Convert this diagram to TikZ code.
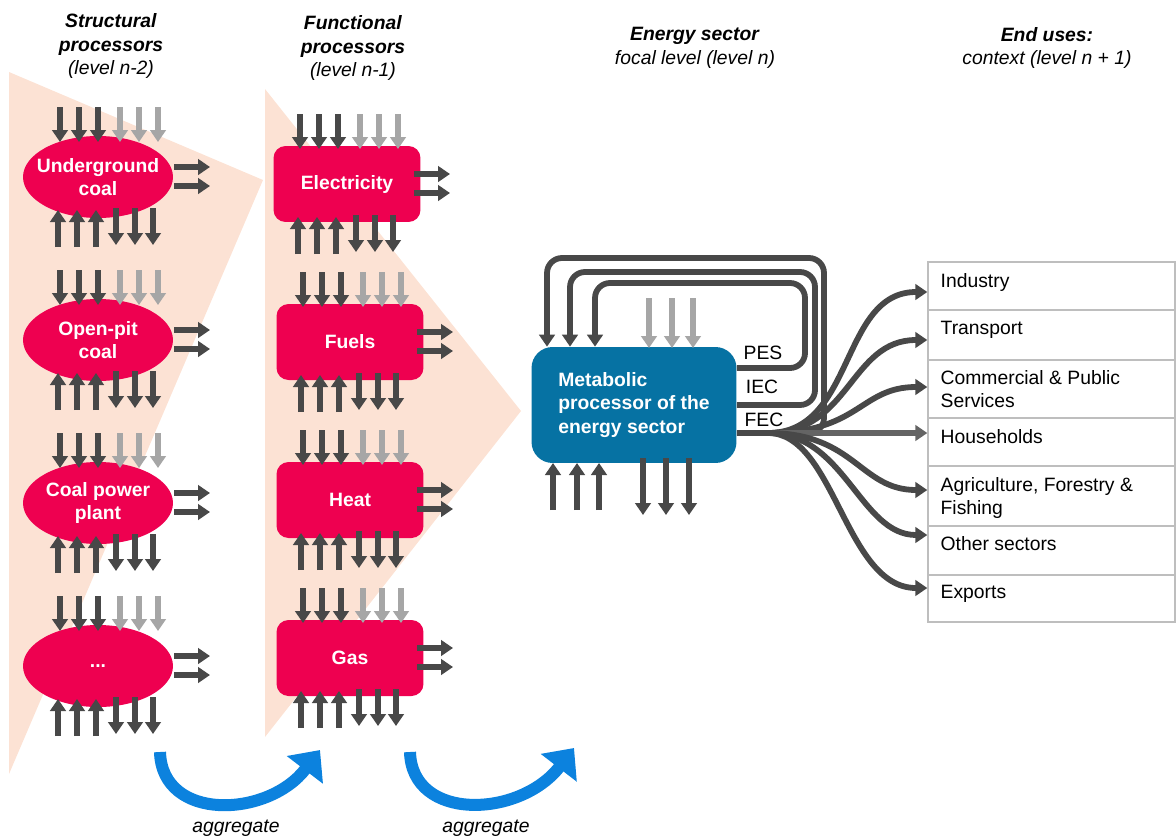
\documentclass[tikz,border=0pt]{standalone}
\usepackage{fontspec}
\setmainfont{Liberation Sans}
\usetikzlibrary{shapes.geometric, arrows.meta}

\definecolor{procred}{RGB}{238,0,80}
\definecolor{peach}{RGB}{252,226,212}
\definecolor{metablue}{RGB}{6,114,163}
\definecolor{darkflow}{RGB}{72,72,72}
\definecolor{lightflow}{RGB}{166,166,166}
\definecolor{hhflow}{RGB}{100,100,100}
\definecolor{aggblue}{RGB}{12,130,222}
\definecolor{rowgray}{RGB}{190,190,190}

\newcommand{\figfont}{\fontsize{11}{13.5}\selectfont}

\tikzset{
  structural/.style={ellipse, fill=procred, text=white, font=\figfont\bfseries,
    align=center, minimum width=3cm, minimum height=1.64cm, inner xsep=-0.18cm, inner ysep=0pt},
  functional/.style={rectangle, rounded corners=0.24cm, fill=procred, text=white,
    font=\figfont\bfseries, minimum width=2.94cm, minimum height=1.52cm},
  metabolic/.style={rectangle, rounded corners=0.42cm, fill=metablue, text=white,
    font=\figfont\bfseries, align=left, minimum width=4.1cm, minimum height=2.32cm},
  stub/.style={draw=darkflow, line width=3.3pt, -{Triangle[width=0.31cm,length=0.24cm]}},
  stublight/.style={stub, draw=lightflow},
  feedback/.style={stub, rounded corners=0.3cm},
  sector/.style={rectangle, draw=rowgray, line width=0.8pt, minimum width=4.94cm},
  sectortext/.style={anchor=north west, inner sep=0pt, align=left},
  title/.style={align=center, inner sep=0pt},
  agg/.style={draw=aggblue, line width=0.24cm, -{Triangle[width=0.88cm,length=0.5cm]}}
}

\newcommand{\iostubs}[2]{%
  \begin{scope}[shift={(#1)}, xshift=#2*0.02cm]
    \foreach \dx in {-38,-19,0} \draw[stub] (\dx,-70) -- (\dx,-35);
    \foreach \dx in {22,41,60} \draw[stublight] (\dx,-70) -- (\dx,-35);
    \foreach \dx in {-40,-21,-2} \draw[stub] (\dx,70) -- (\dx,33);
    \foreach \dx in {18,37,55} \draw[stub] (\dx,31) -- (\dx,68);
    \foreach \dy in {-10,9} \draw[stub] (76,\dy) -- (112,\dy);
  \end{scope}}

\begin{document}
\begin{tikzpicture}[x=0.02cm, y=-0.02cm, font=\figfont]
    \useasboundingbox (0,0) rectangle (1176,839);

    \fill[peach] (9,72) -- (263,180) -- (9,774) -- cycle;
    \fill[peach] (265,89) -- (521,411) -- (265,737) -- cycle;

    \node[title] (sttl) at (111,46) {\textbf{\textit{Structural}}\\\textbf{\textit{processors}}\\\textit{(level n-2)}};
    \node[title] (fttl) at (353,48) {\textbf{\textit{Functional}}\\\textbf{\textit{processors}}\\\textit{(level n-1)}};
    \node[title] (ettl) at (695,48) {\textbf{\textit{Energy sector}}\\\textit{focal level (level n)}};
    \node[title] (uttl) at (1047,48) {\textbf{\textit{End uses:}}\\\textit{context (level n + 1)}};

    \node[structural] (ugc) at (98,177) {Underground\\coal};
    \node[structural] (opc) at (98,340) {Open-pit\\coal};
    \node[structural] (cpp) at (98,503) {Coal power\\plant};
    \node[structural] (more) at (98,666) {...};
    \foreach \p in {ugc,opc,cpp,more} \iostubs{\p}{0};

    \node[functional] (elec) at (347,184) {Electricity};
    \node[functional] (fuel) at (350,342) {Fuels};
    \node[functional] (heat) at (350,500) {Heat};
    \node[functional] (gas) at (350,658) {Gas};
    \foreach \p in {elec,fuel,heat,gas} \iostubs{\p}{-9};

    \node[metabolic] (m) at (634,405) {Metabolic\\processor of the\\energy sector};
    \begin{scope}[shift={(m)}]
        \foreach \dx in {15,38,59} \draw[stublight] (\dx,-107) -- (\dx,-57);
        \foreach \dx in {-81,-57,-35} \draw[stub] (\dx,105) -- (\dx,58);
        \foreach \dx in {9,32,55} \draw[stub] (\dx,53) -- (\dx,110);
    \end{scope}

    \draw[feedback] ([yshift=0.74cm]m.east) -| (805,283) -| ([xshift=-0.78cm]m.north);
    \draw[feedback] (m.east) -| (815,272) -| ([xshift=-1.28cm]m.north);
    \draw[feedback] ([yshift=-0.56cm]m.east) -| (824,258) -| ([xshift=-1.74cm]m.north);
    \node (pes) at (763,353) {PES};
    \node (iec) at (762,387) {IEC};
    \node (fec) at (764,420) {FEC};

    \node[sector, minimum height=0.96cm] (ind) at (1051.5,286) {};
    \node[sector, minimum height=1cm] (trn) at (1051.5,335) {};
    \node[sector, minimum height=1.16cm] (com) at (1051.5,389) {};
    \node[sector, minimum height=0.96cm] (hh) at (1051.5,442) {};
    \node[sector, minimum height=1.2cm] (agr) at (1051.5,496) {};
    \node[sector, minimum height=0.98cm] (oth) at (1051.5,550.5) {};
    \node[sector, minimum height=0.94cm] (expo) at (1051.5,598.5) {};
    \node[sectortext] (indt) at ([shift={(0.26cm,-0.23cm)}]ind.north west) {Industry};
    \node[sectortext] (trnt) at ([shift={(0.26cm,-0.23cm)}]trn.north west) {Transport};
    \node[sectortext] (comt) at ([shift={(0.26cm,-0.21cm)}]com.north west) {Commercial \& Public\\Services};
    \node[sectortext] (hht) at ([shift={(0.26cm,-0.23cm)}]hh.north west) {Households};
    \node[sectortext] (agrt) at ([shift={(0.26cm,-0.23cm)}]agr.north west) {Agriculture, Forestry \&\\Fishing};
    \node[sectortext] (otht) at ([shift={(0.26cm,-0.22cm)}]oth.north west) {Other sectors};
    \node[sectortext] (expot) at ([shift={(0.26cm,-0.21cm)}]expo.north west) {Exports};

    \coordinate (fan) at (768,433);
    \draw[stub] (fan) .. controls (855,433) and (840,292) .. ([yshift=-0.12cm]ind.west);
    \draw[stub] (fan) .. controls (850,433) and (850,340) .. ([yshift=-0.1cm]trn.west);
    \draw[stub] (fan) .. controls (860,433) and (860,387) .. ([yshift=0.04cm]com.west);
    \draw[stub, draw=hhflow] (fan) -- ([yshift=0.18cm]hh.west);
    \draw[stub] (fan) .. controls (855,433) and (860,490) .. ([yshift=0.12cm]agr.west);
    \draw[stub] (fan) .. controls (845,433) and (860,535) .. ([yshift=0.31cm]oth.west);
    \draw[stub] (fan) .. controls (835,433) and (845,588) .. ([yshift=0.21cm]expo.west);

    \draw[agg] (160,752) .. controls (162,822) and (268,818) .. (320,750);
    \draw[agg] (410,752) .. controls (412,822) and (520,818) .. (574,748);
    \node (agg1) at (236,828) {\textit{aggregate}};
    \node (agg2) at (486,828) {\textit{aggregate}};
\end{tikzpicture}
\end{document}
